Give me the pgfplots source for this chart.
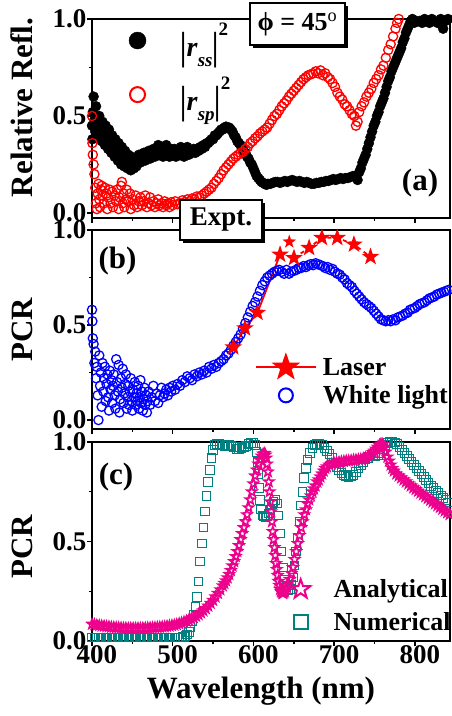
\documentclass[border=0pt]{standalone}
\usepackage{fontspec}
\setmainfont{Liberation Serif}
\usepackage{pgfplots}
\pgfplotsset{compat=1.18}
\usetikzlibrary{shadows}
\definecolor{tealc}{RGB}{0,128,128}
\pgfdeclareplotmark{fstar}{%
  \pgfpathmoveto{\pgfpointpolar{90}{\pgfplotmarksize}}%
  \pgfpathlineto{\pgfpointpolar{126}{0.4\pgfplotmarksize}}%
  \pgfpathlineto{\pgfpointpolar{162}{\pgfplotmarksize}}%
  \pgfpathlineto{\pgfpointpolar{198}{0.4\pgfplotmarksize}}%
  \pgfpathlineto{\pgfpointpolar{234}{\pgfplotmarksize}}%
  \pgfpathlineto{\pgfpointpolar{270}{0.4\pgfplotmarksize}}%
  \pgfpathlineto{\pgfpointpolar{306}{\pgfplotmarksize}}%
  \pgfpathlineto{\pgfpointpolar{342}{0.4\pgfplotmarksize}}%
  \pgfpathlineto{\pgfpointpolar{18}{\pgfplotmarksize}}%
  \pgfpathlineto{\pgfpointpolar{54}{0.4\pgfplotmarksize}}%
  \pgfpathclose\pgfusepathqfillstroke}
\pgfdeclareplotmark{ostar}{%
  \pgfpathmoveto{\pgfpointpolar{90}{\pgfplotmarksize}}%
  \pgfpathlineto{\pgfpointpolar{126}{0.4\pgfplotmarksize}}%
  \pgfpathlineto{\pgfpointpolar{162}{\pgfplotmarksize}}%
  \pgfpathlineto{\pgfpointpolar{198}{0.4\pgfplotmarksize}}%
  \pgfpathlineto{\pgfpointpolar{234}{\pgfplotmarksize}}%
  \pgfpathlineto{\pgfpointpolar{270}{0.4\pgfplotmarksize}}%
  \pgfpathlineto{\pgfpointpolar{306}{\pgfplotmarksize}}%
  \pgfpathlineto{\pgfpointpolar{342}{0.4\pgfplotmarksize}}%
  \pgfpathlineto{\pgfpointpolar{18}{\pgfplotmarksize}}%
  \pgfpathlineto{\pgfpointpolar{54}{0.4\pgfplotmarksize}}%
  \pgfpathclose\pgfusepathqstroke}
\newcommand{\vbar}{\raisebox{-0.1em}{\scalebox{1}[1.4]{|}}}
\newcommand{\absq}[1]{\vbar\textit{r}\raisebox{-0.35em}{\fontsize{19}{19}\selectfont\textit{#1}}\vbar\raisebox{0.75em}{\fontsize{19}{19}\selectfont 2}}
\pgfplotsset{
  legA/.style={legend image code/.code={\draw[##1, mark size=8.5pt] plot coordinates {(9pt,0pt)}; \path[draw=none,fill=none] (0pt,-10pt) rectangle (50pt,10pt);}},
  legAo/.style={legend image code/.code={\draw[##1, mark size=7.5pt, line width=2pt] plot coordinates {(9pt,0pt)}; \path[draw=none,fill=none] (0pt,-10pt) rectangle (50pt,10pt);}},
  legBo/.style={legend image code/.code={\draw[##1, mark size=7pt, line width=2pt] plot coordinates {(30pt,0pt)}; \path[draw=none,fill=none] (0pt,-12pt) rectangle (65pt,12pt);}},
  legBl/.style={legend image code/.code={\draw[##1, draw=red, line width=2pt, mark size=12pt, mark repeat=2, mark phase=2] plot coordinates {(0pt,0pt)(30pt,0pt)(60pt,0pt)}; \path[draw=none,fill=none] (0pt,-12pt) rectangle (65pt,12pt);}},
  legCs/.style={legend image code/.code={\draw[##1, mark size=7pt, line width=2pt] plot coordinates {(10pt,0pt)}; \path[draw=none,fill=none] (0pt,-12pt) rectangle (41pt,12pt);}},
  legCt/.style={legend image code/.code={\draw[##1, mark size=10pt, line width=2pt] plot coordinates {(10pt,0pt)}; \path[draw=none,fill=none] (0pt,-12pt) rectangle (41pt,12pt);}},
}
\begin{document}
\bfseries
\begin{tikzpicture}
\pgfplotsset{panel/.style={
  width=358pt, height=199pt, scale only axis,
  xmin=400, xmax=843.5,
  xtick={400,500,...,800}, minor x tick num=1,
  ytick={0,0.5,1}, minor y tick num=1,
  tick align=outside, tick pos=left,
  major tick length=5pt, minor tick length=3pt,
  every tick/.style={black, line width=1.4pt},
  axis line style={line width=1.6pt},
  /pgf/number format/assume math mode=true,
  ticklabel style={font=\fontsize{27}{27}\selectfont\bfseries},
  yticklabel style={/pgf/number format/.cd, fixed, fixed zerofill, precision=1, /tikz/.cd, xshift=3pt},
  xticklabel style={yshift=4pt, xshift=5pt},
  every axis y label/.style={at={(axis description cs:-0.1955,0.5)}, rotate=90, anchor=center, font=\fontsize{31}{31}\selectfont\bfseries},
  every axis x label/.style={at={(axis description cs:0.472,0)}, anchor=base, yshift=-57pt, font=\fontsize{31}{31}\selectfont\bfseries},
  legend style={draw=none, fill=none, inner sep=0pt, outer sep=0pt, nodes={inner sep=2pt}},
  legend cell align=left,
}}
% ---------------- (a)
\begin{axis}[panel, name=a, at={(0pt,423pt)}, anchor=south west,
  ymin=-0.026, ymax=1.0, xticklabels={},
  ylabel={Relative Refl.}, ylabel style={at={(axis description cs:-0.1955,0.555)}},
  legend style={at={(axis description cs:0.102,0.99)}, anchor=north west, row sep=15pt, font=\fontsize{28}{28}\selectfont\bfseries}]
\addplot[only marks, mark=*, mark size=5pt, black, legA]
coordinates {(400,0.45)(400.5,0.38)(401,0.52)(402,0.60)(403,0.48)(404,0.42)(405,0.55)(407,0.46)(408,0.40)(409,0.50)(411,0.44)(412,0.37)(413,0.47)(415,0.41)(416,0.35)(417,0.45)(419,0.39)(420,0.33)(421,0.43)(423,0.37)(424,0.31)(425,0.40)(427,0.34)(428,0.29)(429,0.38)(431,0.33)(432,0.27)(433,0.36)(435,0.30)(436,0.25)(437,0.34)(439,0.28)(440,0.24)(441,0.32)(443,0.27)(444,0.23)(445,0.30)(447,0.26)(448,0.22)(449,0.29)(451,0.25)(452,0.23)(453,0.28)(455,0.24)(456,0.27)(458,0.30)(460,0.26)(462,0.29)(464,0.31)(466,0.27)(468,0.30)(470,0.32)(472,0.28)(474,0.31)(476,0.33)(478,0.29)(480,0.32)(482,0.35)(484,0.30)(486,0.33)(488,0.29)(490,0.32)(492,0.35)(494,0.31)(496,0.29)(498,0.33)(500,0.30)(502,0.33)(504,0.29)(506,0.32)(508,0.30)(510,0.34)(512,0.31)(514,0.29)(516,0.32)(518,0.34)(520,0.30)(522,0.32)(524,0.31)(526,0.33)(528,0.31)(530,0.33)(532,0.32)(534,0.34)(536,0.33)(538,0.35)(540,0.34)(542,0.36)(544,0.36)(546,0.37)(548,0.38)(550,0.38)(552,0.40)(554,0.40)(556,0.41)(558,0.42)(560,0.43)(562,0.43)(564,0.44)(566,0.445)(568,0.44)(570,0.44)(572,0.43)(574,0.42)(576,0.40)(578,0.39)(580,0.37)(582,0.36)(584,0.35)(586,0.33)(588,0.32)(590,0.31)(592,0.29)(594,0.28)(596,0.26)(598,0.25)(600,0.23)(602,0.21)(604,0.19)(606,0.18)(608,0.17)(610,0.16)(612,0.155)(614,0.15)(616,0.145)(618,0.15)(621,0.15)(624,0.155)(627,0.16)(630,0.16)(633,0.155)(636,0.16)(639,0.165)(642,0.16)(645,0.165)(648,0.17)(651,0.165)(654,0.16)(657,0.165)(660,0.16)(663,0.155)(666,0.16)(669,0.155)(672,0.15)(675,0.15)(678,0.155)(681,0.155)(684,0.16)(687,0.16)(690,0.165)(693,0.165)(696,0.17)(699,0.175)(702,0.17)(705,0.175)(708,0.18)(711,0.175)(714,0.18)(717,0.18)(720,0.185)(723,0.19)(726,0.19)(729,0.17)(731,0.21)(733,0.23)(735,0.26)(737,0.28)(739,0.30)(741,0.33)(743,0.36)(745,0.39)(747,0.42)(749,0.45)(751,0.47)(753,0.50)(755,0.52)(757,0.55)(759,0.57)(761,0.59)(763,0.62)(765,0.65)(767,0.68)(769,0.70)(771,0.73)(773,0.75)(775,0.77)(777,0.79)(779,0.81)(781,0.83)(783,0.85)(785,0.88)(787,0.90)(789,0.93)(791,0.95)(793,0.97)(795,0.99)(797,1.0)(799,0.98)(801,0.99)(803,1.01)(806,0.99)(809,0.98)(812,1.0)(815,0.99)(818,0.98)(821,1.0)(824,0.99)(828,0.98)(832,1.0)(835,0.95)(838,0.99)(841,1.0)};
\addlegendentry{\absq{ss}}
\addplot[only marks, mark=o, mark size=4.6pt, red, line width=1.3pt, mark options={fill=white}, legAo]
coordinates {(400,0.5)(400.5,0.36)(401,0.30)(402,0.25)(403,0.20)(404,0.13)(405,0.05)(406,0.02)(407,0.10)(408,0.15)(409,0.07)(410,0.03)(411,0.12)(412,0.14)(413,0.09)(415,0.05)(416,0.13)(418,0.10)(419,0.02)(420,0.08)(422,0.12)(423,0.05)(425,0.11)(426,0.03)(428,0.09)(430,0.06)(431,0.12)(433,0.02)(434,0.08)(436,0.14)(437,0.16)(438,0.05)(439,0.10)(440,0.03)(442,0.07)(443,0.12)(445,0.06)(447,0.10)(448,0.02)(450,0.07)(452,0.04)(454,0.09)(456,0.03)(458,0.06)(460,0.08)(462,0.04)(464,0.06)(466,0.09)(468,0.03)(470,0.05)(472,0.08)(474,0.04)(476,0.06)(478,0.03)(480,0.05)(482,0.07)(484,0.04)(486,0.05)(488,0.03)(490,0.06)(492,0.04)(494,0.05)(496,0.03)(498,0.055)(500,0.04)(503,0.06)(506,0.045)(509,0.05)(512,0.065)(515,0.055)(518,0.07)(521,0.06)(524,0.075)(527,0.07)(530,0.085)(533,0.08)(536,0.09)(539,0.10)(542,0.11)(545,0.12)(548,0.13)(551,0.15)(554,0.165)(557,0.18)(560,0.20)(563,0.22)(566,0.235)(569,0.25)(572,0.265)(575,0.28)(578,0.29)(581,0.30)(584,0.31)(587,0.315)(590,0.33)(593,0.34)(596,0.36)(599,0.37)(602,0.385)(605,0.395)(608,0.41)(611,0.42)(614,0.43)(617,0.44)(620,0.46)(623,0.48)(626,0.50)(629,0.51)(632,0.53)(635,0.55)(638,0.565)(641,0.58)(644,0.60)(647,0.615)(650,0.63)(653,0.645)(656,0.66)(659,0.675)(662,0.69)(665,0.70)(668,0.71)(671,0.715)(674,0.72)(677,0.73)(680,0.72)(683,0.735)(686,0.71)(689,0.72)(692,0.70)(695,0.69)(698,0.67)(701,0.65)(704,0.62)(707,0.60)(710,0.585)(713,0.56)(716,0.55)(719,0.53)(722,0.51)(725,0.50)(727,0.45)(729,0.47)(731,0.52)(734,0.55)(737,0.57)(740,0.60)(743,0.62)(746,0.64)(749,0.67)(752,0.69)(755,0.71)(758,0.74)(761,0.76)(764,0.80)(767,0.84)(770,0.87)(773,0.91)(776,0.95)(778,0.98)(780,1.0)};
\addlegendentry{\absq{sp}}
\end{axis}
% ---------------- (b)
\begin{axis}[panel, name=b, at={(0pt,212pt)}, anchor=south west,
  ymin=-0.047, ymax=1.0, xticklabels={},
  ylabel={PCR},
  reverse legend,
  legend style={at={(axis description cs:0.455,0.37)}, anchor=north west, row sep=4pt, font=\fontsize{26}{26}\selectfont\bfseries}]
\addplot[only marks, mark=o, mark size=4.6pt, blue, line width=1.3pt, mark options={fill=white}, legBo]
coordinates {(400,0.58)(400.5,0.52)(401,0.43)(402,0.40)(403,0.30)(404,0.36)(405,0.22)(406,0.28)(407,0.13)(408,0.0)(409,0.34)(410,0.18)(411,0.25)(412,0.07)(413,0.30)(414,0.15)(415,0.22)(416,0.28)(417,0.10)(418,0.19)(419,0.24)(420,0.12)(421,0.05)(422,0.26)(423,0.16)(424,0.21)(425,0.09)(426,0.18)(427,0.24)(428,0.13)(429,0.06)(430,0.32)(431,0.20)(432,0.15)(433,0.29)(434,0.04)(435,0.11)(436,0.22)(437,0.17)(438,0.27)(439,0.09)(440,0.14)(441,0.19)(442,0.24)(443,0.06)(444,0.12)(445,0.18)(446,0.08)(447,0.15)(448,0.22)(449,0.10)(450,0.05)(451,0.16)(452,0.12)(453,0.20)(454,0.08)(455,0.14)(456,0.10)(457,0.18)(458,0.06)(459,0.12)(460,0.21)(461,0.09)(462,0.15)(463,0.05)(464,0.11)(465,0.17)(466,0.08)(467,0.13)(468,0.04)(469,0.10)(470,0.15)(472,0.08)(474,0.12)(476,0.18)(478,0.10)(480,0.14)(482,0.09)(484,0.13)(486,0.17)(488,0.12)(490,0.14)(492,0.16)(494,0.13)(496,0.17)(498,0.15)(500,0.18)(503,0.16)(506,0.19)(509,0.18)(512,0.21)(515,0.20)(518,0.23)(521,0.22)(524,0.21)(527,0.24)(530,0.23)(533,0.25)(536,0.24)(539,0.26)(542,0.25)(545,0.28)(548,0.27)(551,0.29)(554,0.28)(557,0.30)(560,0.31)(563,0.32)(566,0.34)(569,0.35)(572,0.37)(575,0.39)(578,0.41)(581,0.43)(584,0.45)(587,0.48)(590,0.51)(593,0.54)(596,0.57)(599,0.60)(602,0.62)(605,0.65)(608,0.68)(611,0.71)(614,0.73)(617,0.75)(620,0.76)(623,0.77)(626,0.78)(629,0.785)(632,0.79)(635,0.78)(638,0.77)(641,0.79)(644,0.77)(647,0.78)(650,0.785)(653,0.79)(656,0.80)(659,0.80)(662,0.81)(665,0.805)(668,0.815)(671,0.82)(674,0.815)(677,0.825)(680,0.82)(683,0.815)(686,0.81)(689,0.80)(692,0.805)(695,0.79)(698,0.795)(701,0.78)(704,0.77)(707,0.765)(710,0.75)(713,0.74)(716,0.72)(719,0.71)(722,0.70)(725,0.68)(728,0.665)(731,0.65)(734,0.635)(737,0.62)(740,0.61)(743,0.60)(746,0.59)(749,0.575)(752,0.56)(755,0.545)(758,0.53)(761,0.525)(764,0.52)(767,0.525)(770,0.52)(773,0.53)(776,0.525)(779,0.54)(782,0.545)(785,0.55)(788,0.56)(791,0.565)(794,0.58)(797,0.585)(800,0.59)(803,0.60)(806,0.61)(809,0.615)(812,0.62)(815,0.63)(818,0.64)(821,0.645)(824,0.65)(827,0.66)(830,0.665)(833,0.67)(836,0.675)(839,0.68)(842,0.685)};
\addlegendentry{White light}
\addplot[color=red, draw=red, line width=1.8pt, mark=fstar, mark size=6.5pt, mark options={fill=red, draw=red, solid}, legBl]
coordinates {(575,0.383)(589.5,0.483)(605,0.565)(633,0.871)};
\addlegendentry{Laser}
\addplot[color=red, only marks, mark=fstar, mark size=6.5pt, mark options={fill=red, draw=red}, forget plot]
coordinates {(644.4,0.938)};
\addplot[color=red, draw=red, line width=1.8pt, dash pattern=on 4pt off 4pt, mark=fstar, mark size=6.5pt, mark options={fill=red, draw=red, solid}, forget plot]
coordinates {(650.2,0.853)(669,0.906)(684.8,0.959)(703.8,0.959)(724.5,0.924)(745,0.859)};
\end{axis}
% ---------------- (c)
\begin{axis}[panel, name=c, at={(0pt,0pt)}, anchor=south west,
  ymin=0, ymax=1.0,
  ylabel={PCR}, ylabel style={at={(axis description cs:-0.1955,0.475)}},
  xlabel={Wavelength (nm)},
  reverse legend,
  legend style={at={(axis description cs:0.555,0.32)}, anchor=north west, row sep=9pt, font=\fontsize{26}{26}\selectfont\bfseries}]
\addplot[only marks, mark=square, mark size=4.3pt, tealc, line width=1pt, mark options={fill=white}, legCs]
coordinates {(400,0.018)(403,0.018)(406,0.018)(409,0.018)(412,0.018)(415,0.018)(418,0.018)(421,0.018)(424,0.018)(427,0.018)(430,0.018)(433,0.018)(436,0.018)(439,0.018)(442,0.018)(445,0.018)(448,0.018)(451,0.018)(454,0.018)(457,0.018)(460,0.018)(463,0.018)(466,0.018)(469,0.018)(472,0.018)(475,0.018)(478,0.018)(481,0.018)(484,0.018)(487,0.018)(490,0.018)(493,0.018)(496,0.018)(499,0.018)(502,0.018)(505,0.018)(508,0.018)(510,0.018)(512,0.019)(514,0.02)(516,0.024)(518,0.032)(520,0.045)(522,0.07)(524,0.10)(526,0.13)(528,0.17)(530,0.22)(532,0.30)(534,0.40)(536,0.49)(538,0.57)(540,0.65)(542,0.73)(544,0.80)(546,0.86)(548,0.92)(550,0.96)(552,0.985)(555,0.99)(558,0.99)(561,0.985)(564,0.98)(567,0.985)(570,0.985)(573,0.98)(576,0.975)(579,0.965)(582,0.965)(585,0.97)(588,0.975)(591,0.98)(594,0.99)(597,0.995)(600,0.995)(602,0.985)(604,0.95)(605,0.90)(606,0.84)(607,0.77)(608,0.71)(609,0.66)(611,0.63)(613,0.625)(615,0.62)(617,0.625)(619,0.64)(621,0.66)(623,0.685)(625,0.70)(627,0.71)(629,0.69)(631,0.63)(633,0.54)(635,0.45)(637,0.37)(639,0.31)(641,0.27)(643,0.255)(645,0.26)(647,0.28)(649,0.32)(651,0.38)(653,0.45)(655,0.52)(657,0.60)(659,0.68)(661,0.75)(663,0.82)(665,0.87)(667,0.91)(670,0.945)(673,0.97)(676,0.985)(679,0.99)(682,0.99)(685,0.985)(688,0.97)(691,0.955)(694,0.94)(697,0.92)(700,0.895)(703,0.875)(706,0.86)(709,0.845)(712,0.835)(715,0.828)(718,0.825)(721,0.827)(724,0.835)(727,0.85)(730,0.868)(733,0.885)(736,0.90)(739,0.912)(742,0.92)(745,0.927)(748,0.93)(751,0.93)(754,0.935)(757,0.945)(760,0.965)(763,0.985)(766,0.995)(769,1.0)(772,1.0)(775,0.997)(778,0.99)(781,0.975)(784,0.96)(787,0.945)(790,0.93)(793,0.915)(796,0.90)(799,0.885)(802,0.87)(805,0.855)(808,0.84)(811,0.825)(814,0.81)(817,0.795)(820,0.78)(823,0.768)(826,0.756)(829,0.744)(832,0.732)(835,0.72)(838,0.708)(841,0.696)(844,0.684)};
\addlegendentry{Numerical}
\addplot[only marks, mark=ostar, mark size=5.2pt, magenta, line width=1.5pt, legCt]
coordinates {(400,0.085)(403,0.083)(406,0.080)(409,0.078)(412,0.076)(415,0.075)(418,0.073)(421,0.072)(424,0.070)(427,0.069)(430,0.068)(433,0.067)(436,0.066)(439,0.065)(442,0.065)(445,0.064)(448,0.064)(451,0.064)(454,0.064)(457,0.064)(460,0.064)(463,0.065)(466,0.065)(469,0.066)(472,0.066)(475,0.067)(478,0.068)(481,0.069)(484,0.070)(487,0.071)(490,0.072)(493,0.074)(496,0.076)(499,0.078)(502,0.080)(505,0.083)(508,0.087)(511,0.091)(514,0.096)(517,0.100)(520,0.105)(523,0.111)(526,0.118)(529,0.125)(532,0.133)(535,0.142)(538,0.152)(541,0.163)(544,0.176)(547,0.19)(550,0.205)(553,0.222)(556,0.24)(559,0.258)(562,0.278)(564,0.29)(566,0.303)(568,0.318)(570,0.335)(572,0.355)(574,0.378)(576,0.40)(578,0.425)(580,0.45)(582,0.48)(584,0.51)(586,0.54)(588,0.57)(590,0.60)(592,0.635)(594,0.67)(596,0.71)(598,0.75)(600,0.79)(602,0.83)(604,0.86)(606,0.89)(608,0.91)(610,0.93)(612,0.94)(614,0.943)(615,0.935)(616,0.92)(617,0.89)(618,0.85)(619,0.80)(620,0.75)(621,0.70)(622,0.65)(623,0.60)(624,0.55)(625,0.51)(626,0.47)(627,0.43)(628,0.39)(629,0.36)(630,0.33)(631,0.30)(632,0.28)(633,0.26)(634,0.25)(635,0.245)(636,0.24)(637,0.24)(638,0.245)(639,0.25)(640,0.26)(641,0.27)(643,0.29)(645,0.31)(647,0.34)(649,0.37)(651,0.41)(653,0.45)(655,0.49)(657,0.53)(659,0.57)(661,0.60)(663,0.635)(665,0.66)(667,0.69)(669,0.71)(671,0.73)(673,0.75)(675,0.765)(677,0.78)(679,0.80)(681,0.81)(683,0.825)(685,0.84)(687,0.855)(689,0.868)(691,0.876)(694,0.885)(697,0.89)(700,0.894)(703,0.897)(706,0.899)(709,0.901)(712,0.903)(715,0.905)(718,0.906)(721,0.907)(724,0.909)(727,0.91)(730,0.912)(733,0.914)(736,0.917)(739,0.921)(742,0.928)(745,0.937)(748,0.948)(750,0.955)(752,0.965)(754,0.975)(756,0.985)(758,0.99)(760,0.988)(762,0.975)(764,0.95)(766,0.925)(768,0.905)(770,0.885)(772,0.868)(774,0.855)(777,0.84)(780,0.83)(783,0.82)(786,0.81)(789,0.80)(792,0.79)(795,0.78)(798,0.77)(801,0.762)(804,0.753)(807,0.744)(810,0.735)(813,0.726)(816,0.717)(819,0.708)(822,0.699)(825,0.69)(828,0.681)(831,0.672)(834,0.663)(837,0.654)(840,0.645)(843,0.636)(846,0.63)};
\addlegendentry{Analytical}
\end{axis}
% annotations
\node[draw, line width=1.4pt, fill=white, drop shadow={shadow xshift=3pt, shadow yshift=-3pt, opacity=1, fill=black}, minimum width=95pt, minimum height=42pt, inner sep=0pt, font=\fontsize{26}{26}\selectfont\bfseries] at (205.5pt,617pt) {ϕ = 45\textsuperscript{\mdseries o}};
\node[draw, line width=1.4pt, fill=white, drop shadow={shadow xshift=3pt, shadow yshift=-3pt, opacity=1, fill=black}, minimum width=82pt, minimum height=40pt, inner sep=0pt, font=\fontsize{27}{27}\selectfont\bfseries] at (129pt,421pt) {Expt.};
\node[font=\fontsize{31}{31}\selectfont\bfseries] at (328pt,457.5pt) {(a)};
\node[font=\fontsize{31}{31}\selectfont\bfseries] at (25.5pt,380pt) {(b)};
\node[font=\fontsize{31}{31}\selectfont\bfseries] at (24pt,164pt) {(c)};
\pgfresetboundingbox
\path[use as bounding box] (-92pt,-75pt) rectangle (359pt,641pt);
\end{tikzpicture}
\end{document}
